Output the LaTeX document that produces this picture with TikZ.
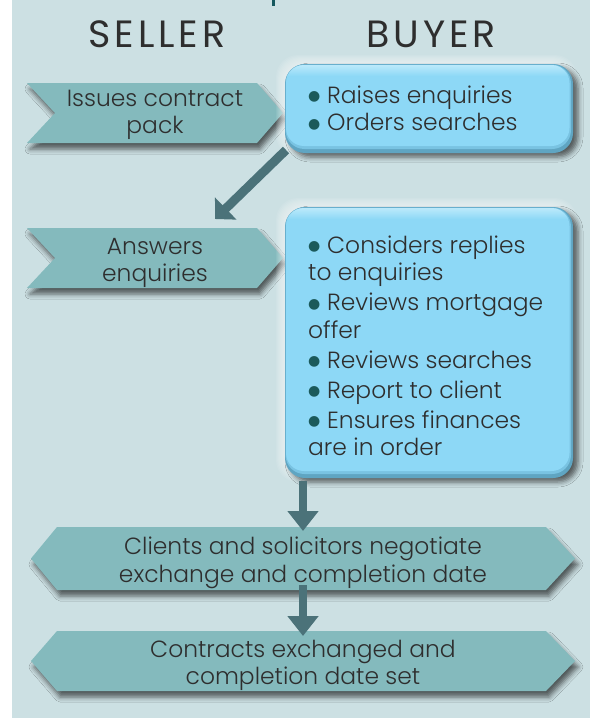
\documentclass[tikz,border=0pt]{standalone}
\usepackage{fontspec}
\newfontfamily\lightsans{Poppins Light}
\newfontfamily\headsans{Poppins}[LetterSpace=10]
\newfontfamily\dotfont{DejaVu Sans}
\usetikzlibrary{arrows.meta,shadows.blur,calc}

\definecolor{pagebg}{HTML}{CCE0E3}
\definecolor{chev}{HTML}{84BABD}
\definecolor{boxblue}{HTML}{8DD8F6}
\definecolor{boxmid}{HTML}{79C3E2}
\definecolor{boxedge}{HTML}{5FA5C2}
\definecolor{boxhi}{HTML}{BFEBFB}
\definecolor{flow}{HTML}{4B7279}
\definecolor{dot}{HTML}{1B5A5B}
\definecolor{ink}{HTML}{2E2E2E}
\definecolor{titlemark}{HTML}{14585E}

% bulleted line with hanging indent
\newcommand\bitem[1]{\par\noindent\hangindent=19pt\hangafter=1%
  \makebox[19pt][l]{\raisebox{2.2pt}{\dotfont\fontsize{14}{14}\selectfont\textcolor{dot}{●}}}#1}

% rounded blue panel with bevel, glow and shadow around node #1
\newcommand\bluepanel[1]{%
  \foreach \k in {1,...,8}{%
    \fill[white, opacity=.08, rounded corners=22pt]
      ($(#1.north west)+(-\k-1,-\k-1)$) rectangle ($(#1.south east)+(\k-4,\k-4)$);}
  \fill[boxedge, rounded corners=20pt,
        blur shadow={shadow xshift=5pt, shadow yshift=-4pt,
                     shadow blur radius=5pt, shadow opacity=60}]
    (#1.north west) rectangle (#1.south east);
  \fill[boxmid, rounded corners=19pt]
    ($(#1.north west)+(0.5,0.5)$) rectangle ($(#1.south east)+(-2,-4)$);
  \fill[boxblue, rounded corners=18pt]
    ($(#1.north west)+(1,1)$) rectangle ($(#1.south east)+(-3.5,-7)$);
  \begin{scope}
    \clip[rounded corners=18pt]
      ($(#1.north west)+(1,1)$) rectangle ($(#1.south east)+(-3.5,-7)$);
    \shade[top color=boxhi, bottom color=boxblue]
      (#1.north west) rectangle ($(#1.north east)+(0,12)$);
  \end{scope}}

\begin{document}
\begin{tikzpicture}[x=1pt, y=-1pt,
  frame/.style={rectangle, inner sep=0pt, outer sep=0pt},
  heading/.style={font=\headsans\fontsize{38}{38}\selectfont, text=ink,
                  inner sep=0pt, anchor=base},
  body/.style={font=\lightsans\fontsize{23.4}{27.5}\selectfont, text=ink,
               inner sep=0pt},
  chevshadow/.style={blur shadow={shadow xshift=3pt, shadow yshift=-6pt,
                     shadow blur radius=5pt, shadow opacity=60}},
  flowarrow/.style={draw=flow, line width=8pt,
                    -{Triangle[width=30pt,length=20pt]}},
  slantarrow/.style={draw=flow, line width=9pt,
                     -{Triangle[width=30pt,length=15pt]}}]
\useasboundingbox (0,0) rectangle (590,720);

% prime the shadow fading once, hidden under the page fill
\fill[pagebg, chevshadow] (100,700) rectangle (101,701);
% page
\fill[pagebg] (12,0) rectangle (590,718);
\fill[titlemark] (272,0) rectangle (275,6);

% step outlines
\node[frame, minimum width=256pt, minimum height=60pt] (s1) at (155,113) {};
\node[frame, minimum width=256pt, minimum height=60pt] (s2) at (155,258) {};
\node[frame, minimum width=288pt, minimum height=89pt] (b1) at (429,108.5) {};
\node[frame, minimum width=288pt, minimum height=271pt] (b2) at (429,342.5) {};
\node[frame, minimum width=544pt, minimum height=63pt] (n1) at (303,558.5) {};
\node[frame, minimum width=544pt, minimum height=60pt] (n2) at (303,661) {};

% seller chevrons
\foreach \s in {s1,s2}{%
  \fill[chev, chevshadow] (\s.north west) -- ([xshift=-26pt]\s.north east)
    -- (\s.east) -- ([xshift=-26pt]\s.south east) -- (\s.south west)
    -- ([xshift=28pt]\s.west) -- cycle;}
% shared steps
\foreach \s in {n1,n2}{%
  \fill[chev, chevshadow] (\s.west) -- ([xshift=26pt]\s.north west)
    -- ([xshift=-29pt]\s.north east) -- (\s.east)
    -- ([xshift=-29pt]\s.south east) -- ([xshift=26pt]\s.south west) -- cycle;}
% buyer panels
\bluepanel{b1}
\bluepanel{b2}

% column headings
\node[heading] (seller) at (157,47) {SELLER};
\node[heading] (buyer) at (431,47) {BUYER};

% step texts
\node[body, anchor=base] (s1t) at (155,106)
  {\parbox[t]{240pt}{\centering Issues contract\\pack}};
\node[body, anchor=base] (s2t) at (155,254)
  {\parbox[t]{240pt}{\centering Answers\\enquiries}};
\node[body, anchor=base west] (b1t) at (308,103)
  {\parbox[t]{262pt}{\raggedright\setlength\parskip{0pt}%
    \bitem{Raises enquiries}\bitem{Orders searches}}};
\node[body, anchor=base west] (b2t) at (308,253)
  {\parbox[t]{262pt}{\raggedright\setlength\parskip{2.5pt}%
    \bitem{Considers replies\\to enquiries}%
    \bitem{Reviews mortgage\\offer}%
    \bitem{Reviews searches}%
    \bitem{Report to client}%
    \bitem{Ensures finances\\are in order}}};
\node[body, anchor=base] (n1t) at (303,554.5)
  {\parbox[t]{480pt}{\centering Clients and solicitors negotiate\\exchange and completion date}};
\node[body, anchor=base] (n2t) at (303,657)
  {\parbox[t]{480pt}{\centering Contracts exchanged and\\completion date set}};

% connectors
\coordinate (d1end) at ($(s2.north west)+(188,-9)$);
\draw[slantarrow] ([shift={(1,-3)}]b1.south west) -- (d1end);
\draw[flowarrow] ([yshift=-3pt]n1.north |- b2.south) -- ([yshift=-4pt]n1.north);
\draw[flowarrow] ([yshift=5pt]n1.south) -- ([yshift=-5pt]n2.north);
\end{tikzpicture}
\end{document}
